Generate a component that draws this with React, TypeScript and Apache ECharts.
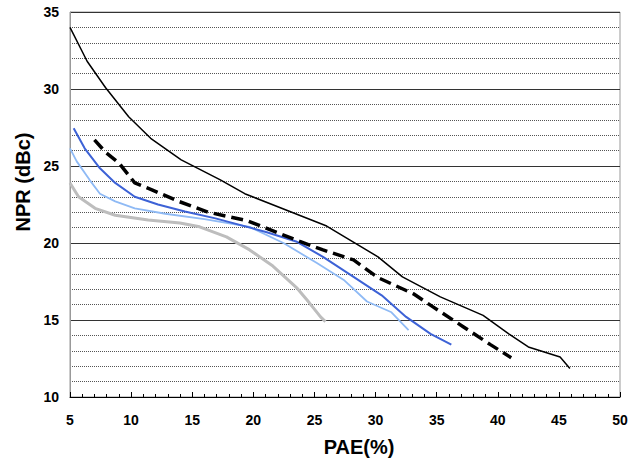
import React, { useEffect, useRef } from "react";
import * as echarts from "echarts";

const blackX = [5, 6.4, 7.9, 9.8, 11.6, 14.1, 17.3, 19.3, 26.0, 30.2, 32.2, 35.3, 38.8, 40.9, 42.5, 45.1, 45.9];
const blackY = [34.0, 31.8, 30.1, 28.2, 26.8, 25.4, 24.1, 23.2, 21.1, 19.1, 17.8, 16.5, 15.3, 14.1, 13.25, 12.6, 11.85];

const dashX = [7.0, 7.9, 9.0, 10.3, 11.7, 13.9, 16.3, 19.5, 23.8, 25.7, 28.2, 30.2, 33.1, 34.7, 37.2, 39.4, 41.1];
const dashY = [26.7, 25.9, 25.2, 23.9, 23.45, 22.7, 22.0, 21.45, 20.1, 19.55, 18.9, 17.75, 16.7, 15.85, 14.55, 13.4, 12.55];

const darkBlueX = [5.3, 6.2, 7.45, 8.7, 10.3, 12.2, 14.4, 16.9, 21.1, 23.5, 25.7, 28.2, 30.5, 32.5, 34.5, 36.2];
const darkBlueY = [27.45, 26.15, 24.85, 23.9, 23.0, 22.5, 22.05, 21.6, 20.7, 20.1, 19.1, 17.8, 16.6, 15.2, 14.1, 13.4];

const lightBlueX = [5.0, 5.55, 6.6, 7.45, 8.7, 10.3, 12.8, 16.0, 19.7, 22.5, 25.2, 27.4, 29.3, 31.3, 32.7];
const lightBlueY = [26.15, 25.3, 24.1, 23.2, 22.7, 22.25, 21.9, 21.55, 21.05, 19.98, 18.7, 17.6, 16.2, 15.5, 14.35];

const grayX = [5.0, 5.7, 7.05, 8.7, 11.4, 14.0, 15.6, 17.8, 19.7, 21.6, 23.6, 24.6, 25.5, 25.9];
const grayY = [23.9, 23.0, 22.25, 21.8, 21.5, 21.3, 21.05, 20.4, 19.55, 18.5, 17.05, 16.1, 15.2, 14.9];

const xTicks = [5, 10, 15, 20, 25, 30, 35, 40, 45, 50];
const yTicks = [10, 15, 20, 25, 30, 35];

const zip = (xs: number[], ys: number[]) => xs.map((x, i) => [x, ys[i]]);

const FONT = "Arial, 'Liberation Sans', sans-serif";

export default function App() {
  const ref = useRef<HTMLDivElement>(null);
  useEffect(() => {
    if (!ref.current) return;
    const chart = echarts.init(ref.current, undefined, { renderer: "svg" });
    chart.setOption({
      animation: false,
      backgroundColor: "#ffffff",
      grid: {
        left: 70,
        right: 11,
        top: 12,
        bottom: 63,
        show: true,
        borderColor: "#999999",
        borderWidth: 1,
      },
      xAxis: {
        type: "value",
        min: xTicks[0],
        max: xTicks[xTicks.length - 1],
        interval: 5,
        axisLine: { show: true, lineStyle: { color: "#000", width: 1 } },
        axisTick: { show: true, inside: true, length: 5, lineStyle: { color: "#000" } },
        minorTick: { show: true, splitNumber: 5, length: 3, lineStyle: { color: "#000" } },
        splitLine: { show: false },
        axisLabel: {
          margin: 16,
          fontFamily: FONT,
          fontWeight: "bold",
          fontSize: 14,
          color: "#000",
        },
      },
      yAxis: [
        {
          type: "value",
          min: 10,
          max: 35,
          interval: 1,
          axisLine: { show: true, lineStyle: { color: "#999" } },
          axisTick: { show: false },
          axisLabel: { show: false },
          splitLine: { show: true, lineStyle: { color: "#555", type: [1, 1], width: 1 } },
        },
        {
          type: "value",
          min: yTicks[0],
          max: yTicks[yTicks.length - 1],
          interval: 5,
          position: "left",
          axisLine: { show: false },
          axisTick: { show: false },
          axisLabel: {
            margin: 11,
            fontFamily: FONT,
            fontWeight: "bold",
            fontSize: 14,
            color: "#000",
          },
          splitLine: { show: true, lineStyle: { color: "#333", width: 1 } },
        },
      ],
      graphic: [
        {
          type: "text",
          x: 359,
          y: 447,
          style: {
            text: "PAE(%)",
            font: `bold 20px ${FONT}`,
            fill: "#000",
            align: "center",
            verticalAlign: "middle",
          },
        },
        {
          type: "text",
          x: 23,
          y: 182,
          rotation: Math.PI / 2,
          style: {
            text: "NPR (dBc)",
            font: `bold 20px ${FONT}`,
            fill: "#000",
            align: "center",
            verticalAlign: "middle",
          },
        },
      ],
      series: [
        {
          type: "line",
          data: zip(grayX, grayY),
          showSymbol: false,
          symbol: "none",
          lineStyle: { color: "#bdbdbd", width: 3 },
        },
        {
          type: "line",
          data: zip(lightBlueX, lightBlueY),
          showSymbol: false,
          symbol: "none",
          lineStyle: { color: "#8fbaf5", width: 1.8 },
        },
        {
          type: "line",
          data: zip(darkBlueX, darkBlueY),
          showSymbol: false,
          symbol: "none",
          lineStyle: { color: "#3d62d6", width: 2 },
        },
        {
          type: "line",
          data: zip(dashX, dashY),
          showSymbol: false,
          symbol: "none",
          lineStyle: { color: "#000", width: 3.5, type: [12, 6] },
        },
        {
          type: "line",
          data: zip(blackX, blackY),
          showSymbol: false,
          symbol: "none",
          lineStyle: { color: "#000", width: 1.5 },
        },
      ],
    });
    return () => chart.dispose();
  }, []);
  return (
    <div
      ref={ref}
      style={{ position: "absolute", left: 0, top: 0, width: 631, height: 460 }}
    />
  );
}
